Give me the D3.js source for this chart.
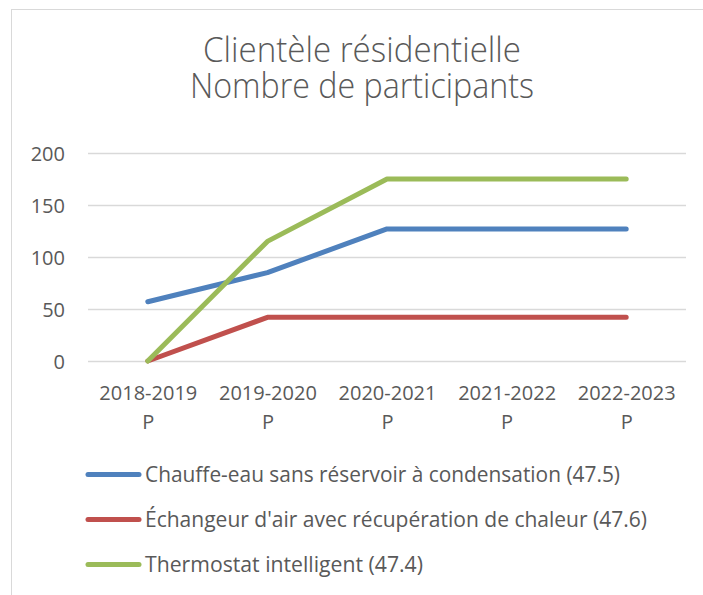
<!DOCTYPE html>
<html>
<head>
<meta charset="utf-8">
<script src="https://cdn.jsdelivr.net/npm/d3@7"></script>
<style>
    body { margin: 0; background: #fff; }
    text { font-family: "Open Sans", "Noto Sans", sans-serif; fill: #595959; }
</style>
</head>
<body>
<svg id="chart" width="703" height="595"></svg>
<script>
var categories = ["2018-2019 P", "2019-2020 P", "2020-2021 P", "2021-2022 P", "2022-2023 P"];
var seriesNames = [
    "Chauffe-eau sans réservoir à condensation (47.5)",
    "Échangeur d'air avec récupération de chaleur (47.6)",
    "Thermostat intelligent (47.4)"
];
var chauffeEau = [57, 85, 127, 127, 127];
var echangeurAir = [0, 42, 42, 42, 42];
var thermostat = [0, 115, 175, 175, 175];
var yTicks = [0, 50, 100, 150, 200];
var titleLines = ["Clientèle résidentielle", "Nombre de participants"];
var colors = ["#4F81BD", "#C0504D", "#9BBB59"];

var series = [chauffeEau, echangeurAir, thermostat];

var svg = d3.select("#chart");

// Chart border (right and bottom edges are cut off in the picture)
svg.append("rect")
    .attr("x", 11.5).attr("y", 9.5)
    .attr("width", 800).attr("height", 700)
    .attr("fill", "#fff")
    .attr("stroke", "#d9d9d9");

// Title: one text, one tspan per line
var titleWidths = [318, 344];
svg.append("text")
    .attr("class", "title")
    .attr("text-anchor", "middle")
    .style("font-size", "34px")
    .style("font-weight", 300)
    .selectAll("tspan")
    .data(titleLines)
    .enter()
    .append("tspan")
    .attr("x", 362)
    .attr("y", function(d, i) { return 62 + i * 36; })
    .attr("textLength", function(d, i) { return titleWidths[i]; })
    .attr("lengthAdjust", "spacingAndGlyphs")
    .text(function(d) { return d; });

var x = d3.scalePoint().domain(categories).range([88, 686]).padding(0.5);
var y = d3.scaleLinear().domain([0, 200]).range([361, 153]);

// Gridlines
svg.append("g")
    .selectAll("line")
    .data(yTicks)
    .enter()
    .append("line")
    .attr("x1", 88).attr("x2", 686)
    .attr("y1", function(d) { return Math.round(y(d)) + 0.5; })
    .attr("y2", function(d) { return Math.round(y(d)) + 0.5; })
    .attr("stroke", "#d9d9d9")
    .attr("stroke-width", 1.3);

// Y axis labels
var yAxis = svg.append("g")
    .attr("transform", "translate(65,0)")
    .call(d3.axisLeft(y).tickValues(yTicks).tickSize(0).tickPadding(0));
yAxis.select(".domain").remove();
yAxis.selectAll("text")
    .style("font-size", "20px")
    .attr("fill", null)
    .attr("dy", "0.35em");

// X axis labels, two lines each
var xAxis = svg.append("g")
    .attr("transform", "translate(0,361)")
    .call(d3.axisBottom(x).tickSize(0).tickFormat(""));
xAxis.select(".domain").remove();
xAxis.selectAll(".tick").each(function(d) {
    var parts = d.split(" ");
    var t = d3.select(this).append("text")
        .attr("text-anchor", "middle")
        .style("font-size", "20px");
    t.append("tspan").attr("x", 0).attr("y", 39).text(parts[0]);
    t.append("tspan").attr("x", 0).attr("y", 68).text(parts[1]);
});

// Lines
var line = d3.line()
    .x(function(d, i) { return x(categories[i]); })
    .y(function(d) { return y(d); });

svg.append("g")
    .selectAll("path")
    .data(series)
    .enter()
    .append("path")
    .attr("d", line)
    .attr("fill", "none")
    .attr("stroke", function(d, i) { return colors[i]; })
    .attr("stroke-width", 5)
    .attr("stroke-linecap", "round")
    .attr("stroke-linejoin", "round");

// Legend
var legendWidths = [475, 502, 278];
var legend = svg.append("g")
    .selectAll("g")
    .data(seriesNames)
    .enter()
    .append("g")
    .attr("transform", function(d, i) { return "translate(0," + (474.5 + i * 45) + ")"; });

legend.append("line")
    .attr("x1", 88).attr("x2", 139)
    .attr("stroke", function(d, i) { return colors[i]; })
    .attr("stroke-width", 5)
    .attr("stroke-linecap", "round");

legend.append("text")
    .attr("x", 145)
    .attr("y", 7.5)
    .attr("textLength", function(d, i) { return legendWidths[i]; })
    .attr("lengthAdjust", "spacingAndGlyphs")
    .style("font-size", "22px")
    .text(function(d) { return d; });
</script>
</body>
</html>
